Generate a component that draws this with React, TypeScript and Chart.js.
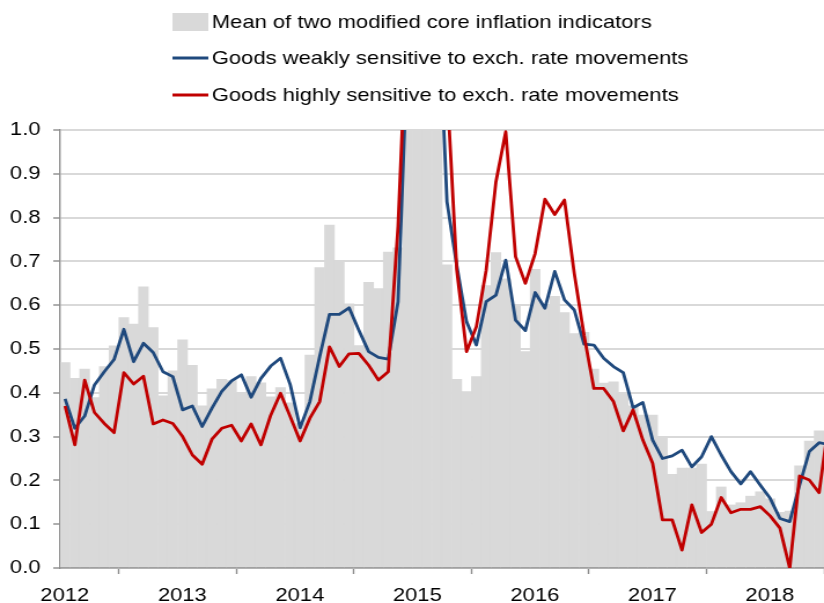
import React, { useEffect, useRef } from 'react';
import { Chart, registerables } from 'chart.js';

Chart.register(...registerables);

// Year labels on the x axis (one tick every 12 months, starting Jan 2012)
const yearLabels = ['2012', '2013', '2014', '2015', '2016', '2017', '2018'];

const seriesNames = [
  'Mean of two modified core inflation indicators',
  'Goods weakly sensitive to exch. rate movements',
  'Goods highly sensitive to exch. rate movements',
];

// Monthly values, Jan 2012 onwards
const meanCore = [
  0.469, 0.433, 0.454, 0.389, 0.46, 0.507, 0.572, 0.557, 0.642, 0.549, 0.393, 0.45,
  0.521, 0.463, 0.37, 0.409, 0.431, 0.428, 0.4, 0.437, 0.423, 0.391, 0.412, 0.377,
  0.33, 0.486, 0.686, 0.783, 0.701, 0.603, 0.508, 0.652, 0.638, 0.721, 0.731, 1.2,
  1.3, 1.25, 1.1, 0.692, 0.431, 0.403, 0.437, 0.645, 0.72, 0.66, 0.6, 0.494,
  0.682, 0.6, 0.62, 0.583, 0.535, 0.538, 0.454, 0.422, 0.425, 0.4, 0.37, 0.349,
  0.349, 0.3, 0.214, 0.228, 0.228, 0.237, 0.129, 0.185, 0.144, 0.149, 0.164, 0.174,
  0.158, 0.127, 0.13, 0.233, 0.29, 0.313, 0.31,
];

const weaklySensitive = [
  0.386, 0.319, 0.347, 0.418, 0.448, 0.476, 0.545, 0.471, 0.513, 0.492, 0.448, 0.437,
  0.361, 0.37, 0.323, 0.365, 0.403, 0.427, 0.441, 0.39, 0.433, 0.461, 0.479, 0.418,
  0.32, 0.38, 0.483, 0.579, 0.579, 0.594, 0.543, 0.494, 0.481, 0.477, 0.608, 1.2,
  1.4, 1.4, 1.35, 0.836, 0.69, 0.562, 0.509, 0.608, 0.623, 0.703, 0.566, 0.542,
  0.629, 0.593, 0.677, 0.612, 0.589, 0.511, 0.509, 0.479, 0.46, 0.446, 0.366, 0.378,
  0.292, 0.25, 0.256, 0.269, 0.231, 0.254, 0.3, 0.258, 0.22, 0.192, 0.22, 0.189,
  0.159, 0.113, 0.106, 0.189, 0.266, 0.286, 0.282,
];

const highlySensitive = [
  0.37, 0.281, 0.429, 0.355, 0.33, 0.309, 0.446, 0.42, 0.438, 0.329, 0.338, 0.33,
  0.3, 0.258, 0.237, 0.294, 0.319, 0.326, 0.29, 0.329, 0.281, 0.349, 0.399, 0.345,
  0.29, 0.342, 0.38, 0.505, 0.46, 0.489, 0.49, 0.463, 0.429, 0.448, 0.78, 1.3,
  1.5, 1.5, 1.4, 1.1, 0.68, 0.494, 0.551, 0.68, 0.882, 0.996, 0.711, 0.65,
  0.718, 0.842, 0.807, 0.84, 0.672, 0.531, 0.41, 0.41, 0.38, 0.313, 0.361, 0.292,
  0.239, 0.11, 0.11, 0.041, 0.144, 0.081, 0.1, 0.161, 0.126, 0.134, 0.134, 0.14,
  0.119, 0.091, 0.0, 0.21, 0.201, 0.172, 0.335,
];

const MONTHS_SHOWN = 78;

// The picture is drawn on a narrower canvas and shown stretched to 824px wide,
// which reproduces the horizontally widened lettering of the original.
const CANVAS_W = 712;
const CANVAS_H = 603;
const SHOWN_W = 824;

const toPoints = (arr: number[]) => arr.map((y, i) => ({ x: i + 0.5, y }));

const FONT_FAMILY = '"Liberation Sans", Arial, Helvetica, sans-serif';

const stackedLegend = {
  id: 'stackedLegend',
  afterDraw(chart: any) {
    const ctx = chart.ctx as CanvasRenderingContext2D;
    const ds = chart.data.datasets;
    const rows = [22, 58, 95];
    const markerX = 149;
    const markerW = 31;
    const textX = 183;
    ctx.save();
    ctx.font = `19px ${FONT_FAMILY}`;
    ctx.textBaseline = 'middle';
    ctx.textAlign = 'left';
    ds.forEach((d: any, i: number) => {
      const y = rows[i];
      if (d.type === 'bar') {
        ctx.fillStyle = d.backgroundColor;
        ctx.fillRect(markerX, y - 9, markerW, 18);
      } else {
        ctx.strokeStyle = d.borderColor;
        ctx.lineWidth = 3;
        ctx.beginPath();
        ctx.moveTo(markerX, y);
        ctx.lineTo(markerX + markerW, y);
        ctx.stroke();
      }
      ctx.fillStyle = '#000';
      ctx.fillText(d.label, textX, y + 1);
    });
    ctx.restore();
  },
};

export default function App() {
  const canvasRef = useRef<HTMLCanvasElement | null>(null);

  useEffect(() => {
    if (!canvasRef.current) return;
    const chart = new Chart(canvasRef.current, {
      type: 'bar',
      data: {
        datasets: [
          {
            type: 'bar',
            label: seriesNames[0],
            data: toPoints(meanCore),
            backgroundColor: '#d9d9d9',
            borderWidth: 0,
            barPercentage: 1,
            categoryPercentage: 1,
            order: 3,
          },
          {
            type: 'line',
            label: seriesNames[1],
            data: toPoints(weaklySensitive),
            borderColor: '#1f497d',
            borderWidth: 2.8,
            pointRadius: 0,
            tension: 0,
            borderJoinStyle: 'round',
            fill: false,
            order: 2,
          },
          {
            type: 'line',
            label: seriesNames[2],
            data: toPoints(highlySensitive),
            borderColor: '#c00000',
            borderWidth: 2.8,
            pointRadius: 0,
            tension: 0,
            borderJoinStyle: 'round',
            fill: false,
            order: 1,
          },
        ],
      } as any,
      options: {
        responsive: false,
        animation: false,
        events: [],
        layout: { padding: { top: 130, right: 0, bottom: 0, left: 0 } },
        plugins: {
          legend: { display: false },
          tooltip: { enabled: false },
        },
        scales: {
          x: {
            type: 'linear',
            offset: false,
            min: 0,
            max: MONTHS_SHOWN,
            afterBuildTicks: (scale: any) => {
              scale.ticks = yearLabels.map((_, k) => ({ value: k * 12 }));
            },
            afterFit: (scale: any) => {
              scale.height = 35;
            },
            ticks: {
              autoSkip: false,
              maxRotation: 0,
              padding: 10,
              labelOffset: 4,
              color: '#000',
              font: { family: FONT_FAMILY, size: 19 },
              callback: (value: any) => yearLabels[Math.round(Number(value) / 12)] ?? '',
            },
            grid: {
              drawOnChartArea: false,
              drawTicks: true,
              tickLength: 6,
              tickColor: '#8c8c8c',
              tickWidth: 1.4,
            },
            border: { color: '#8c8c8c', width: 1.4 },
          },
          y: {
            min: 0,
            max: 1,
            afterFit: (scale: any) => {
              scale.width = 52;
            },
            ticks: {
              stepSize: 0.1,
              padding: 11,
              color: '#000',
              font: { family: FONT_FAMILY, size: 19 },
              callback: (value: any) => Number(value).toFixed(1),
            },
            grid: {
              color: '#d9d9d9',
              lineWidth: 2,
              tickLength: 6,
              tickColor: '#8c8c8c',
              tickWidth: 1.4,
            },
            border: { color: '#8c8c8c', width: 1.4 },
          },
        },
      } as any,
      plugins: [stackedLegend],
    });
    return () => chart.destroy();
  }, []);

  return (
    <div
      style={{
        position: 'fixed',
        left: 0,
        top: 0,
        width: SHOWN_W,
        height: CANVAS_H,
        background: '#fff',
        overflow: 'hidden',
      }}
    >
      <canvas
        ref={canvasRef}
        width={CANVAS_W}
        height={CANVAS_H}
        style={{ display: 'block', width: SHOWN_W, height: CANVAS_H }}
      />
    </div>
  );
}
